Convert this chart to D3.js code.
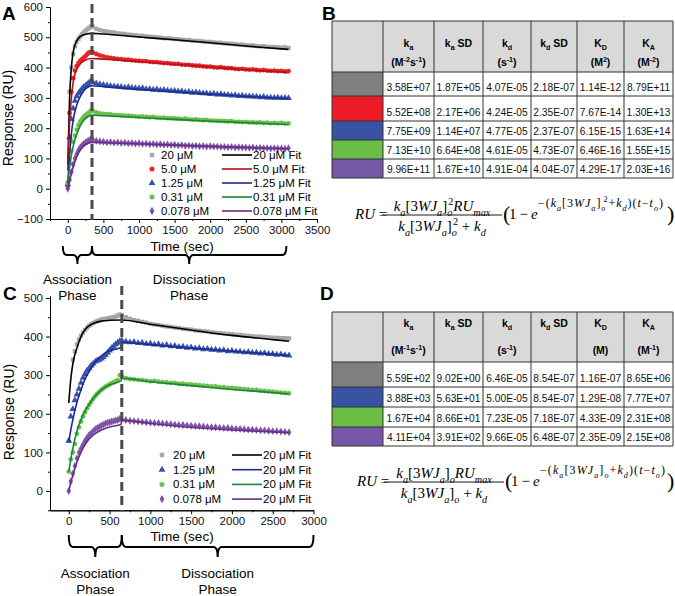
<!DOCTYPE html>
<html>
<head>
<meta charset="utf-8">
<script src="https://cdn.jsdelivr.net/npm/d3@7"></script>
<style>
  body { margin: 0; background: #fff; }
  svg { display: block; }
</style>
</head>
<body>
<div id="chart"></div>
<script>
// ---------- data : panel A (sensorgram, 5 concentrations) ----------
var tA = [0,25,50,75,100,125,150,175,200,225,250,275,300,325,
  350,400,450,500,550,600,650,700,750,800,850,900,950,1000,1050,1100,1150,1200,1250,1300,
  1350,1400,1450,1500,1550,1600,1650,1700,1750,1800,1850,1900,1950,2000,2050,2100,2150,2200,
  2250,2300,2350,2400,2450,2500,2550,2600,2650,2700,2750,2800,2850,2900,2950,3000,3050,3100];
var grayA = [20,320,400,445,470,485,495,503,510,516,522,527,531,536,
  535,528,524,521,519,517,516,513,512,511,509,508,507,505,505,503,502,501,500,499,
  497,497,496,494,494,492,491,491,489,488,488,486,485,485,483,482,482,480,
  479,479,477,476,476,474,473,473,471,470,471,469,468,468,467,466,467,465];
var redA = [10,250,320,365,390,405,415,422,428,433,438,445,450,452,
  450,445,440,437,434,432,430,429,428,426,426,424,423,422,421,421,419,418,418,416,
  415,415,413,412,412,410,409,409,407,406,406,404,403,403,401,400,401,399,
  398,398,396,395,396,394,393,394,392,391,392,390,389,390,388,389,387,388];
var blueA = [15,170,230,265,290,305,315,322,330,336,340,345,350,355,
  352,348,345,343,341,339,338,337,336,334,335,333,332,331,332,329,329,327,328,325,
  326,324,323,323,321,322,319,320,317,318,316,315,315,313,314,311,312,310,
  310,308,309,306,307,305,305,304,304,302,303,301,301,300,301,299,300,299];
var greenA = [20,85,125,155,175,195,210,222,230,238,243,248,252,258,
  256,252,249,247,246,245,244,243,242,241,241,240,239,238,239,237,236,237,235,234,
  235,233,232,232,231,230,231,229,228,229,227,226,227,225,225,224,224,223,
  222,223,221,221,220,221,219,219,218,219,217,218,216,217,216,217,215,216];
var purpleA = [0,30,55,80,100,115,127,136,143,149,153,157,160,163,
  162,158,156,155,153,154,152,153,151,152,150,151,149,150,148,149,147,148,146,147,
  145,146,144,145,143,144,142,143,141,142,140,141,139,140,139,139,138,138,
  137,138,136,137,136,136,135,136,134,135,134,134,133,134,133,133,132,134];

var fitTA = [0,25,50,75,100,150,200,250,340,500,1000,1500,2000,2500,3100];
var blackFitA = [80,300,400,450,475,497,506,510,513,511,501,492,482,471,460];
var redFitA = [60,220,300,350,378,405,418,425,430,428,420,411,402,393,384];
var blueFitA = [20,110,180,225,255,292,315,330,340,337,328,320,312,305,297];
var greenFitA = [15,70,110,140,162,195,218,232,243,241,235,229,223,218,212];
var purpleFitA = [0,25,50,72,90,118,136,146,153,152,148,144,140,136,132];

var legendA = ["20 \u03BCM", "5.0 \u03BCM", "1.25 \u03BCM", "0.31 \u03BCM", "0.078 \u03BCM"];
var fitLegendA = ["20 \u03BCM Fit", "5.0 \u03BCM Fit", "1.25 \u03BCM Fit", "0.31 \u03BCM Fit", "0.078 \u03BCM Fit"];

// ---------- data : panel C (sensorgram, 4 concentrations) ----------
var tC = [0,25,50,75,100,125,150,175,200,225,250,275,300,325,350,375,400,425,450,475,500,525,550,575,600,625,
  650,700,750,800,850,900,950,1000,1050,1100,1150,1200,1250,1300,1350,1400,1450,1500,1550,1600,
  1650,1700,1750,1800,1850,1900,1950,2000,2050,2100,2150,2200,2250,2300,2350,2400,2450,2500,2550,2600,2650,2700];
var grayC = [null,null,340,362,380,392,402,410,417,423,428,432,435,438,440,442,444,445,446,447,448,449,450,452,454,457,
  456,450,446,443,441,438,436,433,431,430,428,426,425,423,422,420,419,418,416,415,
  414,413,411,410,409,408,407,406,405,404,403,402,401,400,400,399,398,397,397,396,396,395];
var blueC = [130,193,212,235,250,265,280,293,303,312,318,325,330,335,338,340,343,347,352,358,364,370,375,380,384,388,
  390,387,385,386,383,384,381,382,379,380,377,378,375,376,373,374,371,372,369,370,
  367,368,366,366,364,365,362,363,361,361,359,360,358,358,356,357,355,355,353,354,352,351];
var greenC = [50,82,100,122,148,165,180,193,204,214,223,231,239,246,252,257,262,266,270,273,276,279,281,284,287,300,
  298,292,290,289,288,287,286,284,285,283,282,281,280,280,278,278,276,276,275,274,
  273,272,271,271,269,269,267,267,266,265,264,263,262,262,260,259,258,257,256,255,254,253];
var purpleC = [0,25,45,65,85,100,110,120,130,138,145,150,155,160,163,166,170,172,175,177,178,180,181,183,184,187,
  186,184,182,181,180,179,178,177,176,176,175,174,173,172,171,171,170,169,168,168,
  167,166,165,165,164,163,163,162,161,161,160,159,159,158,157,157,156,155,155,154,153,152];

var fitTC = [0,25,50,100,150,200,250,300,400,500,640,650,1000,1500,2000,2500,2700];
var blackFitC = [228,290,330,370,400,418,428,434,440,442,443,443,432,417,403,392,388];
var blueFitC = [125,158,185,230,262,290,310,327,350,363,372,385,379,370,362,354,351];
var greenFitC = [50,82,110,155,185,208,225,240,262,275,285,292,283,273,263,255,251];
var purpleFitC = [0,22,40,75,100,120,135,145,158,166,172,183,175,165,158,153,151];

var legendC = ["20 \u03BCM", "1.25 \u03BCM", "0.31 \u03BCM", "0.078 \u03BCM"];
var fitLegendC = ["20 \u03BCM Fit", "20 \u03BCM Fit", "20 \u03BCM Fit", "20 \u03BCM Fit"];

// ---------- data : tables B and D ----------
var tableB = [
  ["3.58E+07","1.87E+05","4.07E-05","2.18E-07","1.14E-12","8.79E+11"],
  ["5.52E+08","2.17E+06","4.24E-05","2.35E-07","7.67E-14","1.30E+13"],
  ["7.75E+09","1.14E+07","4.77E-05","2.37E-07","6.15E-15","1.63E+14"],
  ["7.13E+10","6.64E+08","4.61E-05","4.73E-07","6.46E-16","1.55E+15"],
  ["9.96E+11","1.67E+10","4.91E-04","4.04E-07","4.29E-17","2.03E+16"]
];
var tableD = [
  ["5.59E+02","9.02E+00","6.46E-05","8.54E-07","1.16E-07","8.65E+06"],
  ["3.88E+03","5.63E+01","5.00E-05","8.54E-07","1.29E-08","7.77E+07"],
  ["1.67E+04","8.66E+01","7.23E-05","7.18E-07","4.33E-09","2.31E+08"],
  ["4.11E+04","3.91E+02","9.66E-05","6.48E-07","2.35E-09","2.15E+08"]
];
// header labels: [base, subscript, rest]
var headB = [["k","a",""],["k","a"," SD"],["k","d",""],["k","d"," SD"],["K","D",""],["K","A",""]];
var unitsB = [[["(M",""],["-2","sup"],["s",""],["-1","sup"],[")",""]], [], [["(s",""],["-1","sup"],[")",""]], [],
  [["(M",""],["2","sup"],[")",""]], [["(M",""],["-2","sup"],[")",""]]];
var unitsD = [[["(M",""],["-1","sup"],["s",""],["-1","sup"],[")",""]], [], [["(s",""],["-1","sup"],[")",""]], [],
  [["(M)",""]], [["(M",""],["-1","sup"],[")",""]]];

var font = "Liberation Sans, Arial, sans-serif";
var mathFont = "Liberation Serif, DejaVu Serif, serif";

var dataColors = { gray: "#a6a6a6", red: "#ec2227", blue: "#3651ad", green: "#6cc04a", purple: "#7c55a7" };
var fitColors = { gray: "#000000", red: "#b3121a", blue: "#1d2c8c", green: "#16863a", purple: "#6c2a88" };
var swatch = { gray: "#7f7f7f", red: "#ed1c24", blue: "#3953a4", green: "#6abd45", purple: "#7656a6" };
var shapes = { gray: d3.symbolSquare, red: d3.symbolCircle, blue: d3.symbolTriangle, green: d3.symbolCircle, purple: d3.symbolDiamond };

var svg = d3.select("#chart").append("svg")
  .attr("width", 675).attr("height", 596)
  .style("font-family", font);

// rich text helper: segments [text, "sub"|"sup"|"i"|"sub,i", dx]
function rich(parent, x, y, segs, size, opts) {
  opts = opts || {};
  var t = parent.append("text").attr("x", x).attr("y", y)
    .attr("font-size", size).attr("text-anchor", opts.anchor || "start")
    .attr("font-family", opts.family || font)
    .attr("font-weight", opts.bold ? "bold" : null);
  var cur = 0;
  segs.forEach(function (s) {
    var p = s[1] || "";
    var off = p.indexOf("sub") === 0 ? size * 0.3 : p.indexOf("sup") === 0 ? -size * 0.38 : 0;
    var ts = t.append("tspan").attr("dy", off - cur).text(s[0]);
    cur = off;
    if (off !== 0) ts.attr("font-size", size * 0.68);
    if (p === "i" || p.slice(-2) === ",i") ts.attr("font-style", "italic");
    if (s[2]) ts.attr("dx", s[2]);
  });
  if (opts.len) t.attr("textLength", opts.len).attr("lengthAdjust", "spacing");
  return t;
}

function brace(g, x0, x1, xm, yTop, yMid, yTip) {
  var r = 4;
  var p = "M" + x0 + "," + yTop + " Q" + x0 + "," + yMid + " " + (x0 + r) + "," + yMid +
    " L" + (xm - r) + "," + yMid + " Q" + xm + "," + yMid + " " + xm + "," + yTip +
    " Q" + xm + "," + yMid + " " + (xm + r) + "," + yMid +
    " L" + (x1 - r) + "," + yMid + " Q" + x1 + "," + yMid + " " + x1 + "," + yTop;
  g.append("path").attr("d", p).attr("fill", "none").attr("stroke", "#000").attr("stroke-width", 2);
}

function panel(cfg) {
  var g = svg.append("g");
  var x = d3.scaleLinear().domain(cfg.xDom).range(cfg.xRange);
  var y = d3.scaleLinear().domain(cfg.yDom).range(cfg.yRange);
  var yBase = cfg.yRange[0];

  // minor ticks
  g.append("g").attr("transform", "translate(0," + yBase + ")")
    .call(d3.axisBottom(x).tickValues(cfg.xMinor).tickSize(2).tickSizeOuter(0).tickFormat(""));
  g.append("g").attr("transform", "translate(" + cfg.xRange[0] + ",0)")
    .call(d3.axisLeft(y).tickValues(cfg.yMinor).tickSize(2).tickSizeOuter(0).tickFormat(""));
  // major ticks
  g.append("g").attr("transform", "translate(0," + yBase + ")")
    .call(d3.axisBottom(x).tickValues(cfg.xTicks).tickSize(4).tickSizeOuter(0).tickPadding(3).tickFormat(d3.format("d")));
  g.append("g").attr("transform", "translate(" + cfg.xRange[0] + ",0)")
    .call(d3.axisLeft(y).tickValues(cfg.yTicks).tickSize(4).tickSizeOuter(0).tickPadding(3).tickFormat(d3.format("d")));
  g.selectAll(".tick text").attr("font-size", 11.5).attr("font-family", font).attr("fill", "#111");
  g.selectAll(".domain, .tick line").attr("stroke", "#000");

  // data markers
  cfg.series.forEach(function (s) {
    var pts = cfg.t.map(function (t, i) { return [t, s.values[i]]; })
      .filter(function (d) { return d[1] != null; });
    g.append("g").selectAll("path").data(pts).enter().append("path")
      .attr("d", d3.symbol().type(shapes[s.key]).size(s.key === "blue" ? 20 : 18))
      .attr("transform", function (d) { return "translate(" + x(d[0]) + "," + y(d[1]) + ")"; })
      .attr("fill", dataColors[s.key]);
  });
  // fit lines
  var line = d3.line().x(function (d) { return x(d[0]); }).y(function (d) { return y(d[1]); })
    .curve(d3.curveMonotoneX);
  cfg.series.forEach(function (s) {
    var pts = cfg.fitT.map(function (t, i) { return [t, s.fit[i]]; });
    g.append("path").datum(pts).attr("d", line)
      .attr("fill", "none").attr("stroke", fitColors[s.key]).attr("stroke-width", 1.6);
  });

  // dashed separator between association and dissociation
  g.append("line").attr("x1", x(cfg.switchT)).attr("x2", x(cfg.switchT))
    .attr("y1", cfg.dashTop).attr("y2", yBase + 1)
    .attr("stroke", "#4a4a4a").attr("stroke-width", 3).attr("stroke-dasharray", "9,5");

  // legend
  cfg.series.forEach(function (s, i) {
    var ly = cfg.legY + i * cfg.legStep;
    g.append("path").attr("d", d3.symbol().type(shapes[s.key]).size(20))
      .attr("transform", "translate(" + cfg.legX + "," + ly + ")").attr("fill", dataColors[s.key]);
    g.append("text").attr("x", cfg.legX + cfg.legGap).attr("y", ly + 4).attr("font-size", 11.5).text(s.label);
    g.append("line").attr("x1", cfg.lineX).attr("x2", cfg.lineX + 30).attr("y1", ly).attr("y2", ly)
      .attr("stroke", fitColors[s.key]).attr("stroke-width", 1.6);
    g.append("text").attr("x", cfg.lineX + 31).attr("y", ly + 4).attr("font-size", 11.5).text(s.fitLabel);
  });

  // axis titles
  g.append("text").attr("x", cfg.timeX).attr("y", cfg.timeY)
    .attr("text-anchor", "middle").attr("font-size", 13.5).text("Time (sec)");
  g.append("text").attr("transform", "translate(" + cfg.respX + "," + cfg.respY + ") rotate(-90)")
    .attr("text-anchor", "middle").attr("font-size", 14).text("Response (RU)");

  // phase braces
  var b = cfg.brace;
  brace(g, x(b.start), x(cfg.switchT), (x(b.start) + x(cfg.switchT)) / 2, b.top, b.mid, b.tip);
  brace(g, x(cfg.switchT), x(b.end), (x(cfg.switchT) + x(b.end)) / 2, b.top, b.mid, b.tip);
  var ax = (x(b.start) + x(cfg.switchT)) / 2, dx = (x(cfg.switchT) + x(b.end)) / 2 + b.textShift;
  [["Association", ax, b.text1], ["Phase", ax, b.text2], ["Dissociation", dx, b.text1], ["Phase", dx, b.text2]]
    .forEach(function (d) {
      g.append("text").attr("x", d[1]).attr("y", d[2]).attr("text-anchor", "middle")
        .attr("font-size", 13.5).text(d[0]);
    });
}

panel({
  t: tA, fitT: fitTA, switchT: 340,
  xDom: [-250, 3500], xRange: [50, 317], yDom: [-100, 600], yRange: [219, 7], dashTop: 4,
  xTicks: [0,500,1000,1500,2000,2500,3000,3500], xMinor: [-250,250,750,1250,1750,2250,2750,3250],
  yTicks: [-100,0,100,200,300,400,500,600], yMinor: [-50,50,150,250,350,450,550],
  series: [
    { key: "gray", values: grayA, fit: blackFitA, label: legendA[0], fitLabel: fitLegendA[0] },
    { key: "red", values: redA, fit: redFitA, label: legendA[1], fitLabel: fitLegendA[1] },
    { key: "blue", values: blueA, fit: blueFitA, label: legendA[2], fitLabel: fitLegendA[2] },
    { key: "green", values: greenA, fit: greenFitA, label: legendA[3], fitLabel: fitLegendA[3] },
    { key: "purple", values: purpleA, fit: purpleFitA, label: legendA[4], fitLabel: fitLegendA[4] }
  ],
  legX: 152, legGap: 9, legY: 155, legStep: 14, lineX: 222,
  timeX: 182, timeY: 251, respX: 13, respY: 118,
  brace: { start: -70, end: 3070, top: 246, mid: 255, tip: 264, text1: 284, text2: 300, textShift: 0 }
});

panel({
  t: tC, fitT: fitTC, switchT: 650,
  xDom: [-230, 3000], xRange: [50, 313.5], yDom: [-50, 505], yRange: [510.3, 296], dashTop: 286,
  xTicks: [0,500,1000,1500,2000,2500,3000], xMinor: [250,750,1250,1750,2250,2750],
  yTicks: [0,100,200,300,400,500], yMinor: [-50,50,150,250,350,450],
  series: [
    { key: "gray", values: grayC, fit: blackFitC, label: legendC[0], fitLabel: fitLegendC[0] },
    { key: "blue", values: blueC, fit: blueFitC, label: legendC[1], fitLabel: fitLegendC[1] },
    { key: "green", values: greenC, fit: greenFitC, label: legendC[2], fitLabel: fitLegendC[2] },
    { key: "purple", values: purpleC, fit: purpleFitC, label: legendC[3], fitLabel: fitLegendC[3] }
  ],
  legX: 162, legGap: 11, legY: 455, legStep: 14.7, lineX: 232,
  timeX: 182, timeY: 541, respX: 14, respY: 412,
  brace: { start: 0, end: 3000, top: 535, mid: 547, tip: 557, text1: 578, text2: 594, textShift: 0 }
});

// ---------- tables ----------
var colX = [332, 383, 434, 483, 531, 577, 624, 673];
function table(cfg) {
  var g = svg.append("g");
  var ys = cfg.rowY;
  // header
  g.append("rect").attr("x", colX[0]).attr("y", ys[0]).attr("width", colX[7] - colX[0]).attr("height", ys[1] - ys[0])
    .attr("fill", "#d9d9d9");
  cfg.rows.forEach(function (r, i) {
    g.append("rect").attr("x", colX[0]).attr("y", ys[i + 1]).attr("width", colX[1] - colX[0])
      .attr("height", ys[i + 2] - ys[i + 1]).attr("fill", swatch[cfg.colors[i]]);
    r.forEach(function (v, j) {
      g.append("text").attr("x", (colX[j + 1] + colX[j + 2]) / 2).attr("y", ys[i + 2] - 5)
        .attr("text-anchor", "middle").attr("font-size", 10.2).attr("fill", "#111").text(v);
    });
  });
  headB.forEach(function (h, j) {
    var cx = (colX[j + 1] + colX[j + 2]) / 2;
    rich(g, cx, ys[0] + cfg.headY, [[h[0], ""], [h[1], "sub"], [h[2], ""]], 10.5, { anchor: "middle", bold: true });
    if (cfg.units[j].length) rich(g, cx, ys[0] + cfg.unitY, cfg.units[j], 10.5, { anchor: "middle", bold: true });
  });
  // grid
  ys.forEach(function (yy) {
    g.append("line").attr("x1", colX[0]).attr("x2", colX[7]).attr("y1", yy).attr("y2", yy)
      .attr("stroke", "#333").attr("stroke-width", 1);
  });
  colX.forEach(function (xx) {
    g.append("line").attr("x1", xx).attr("x2", xx).attr("y1", ys[0]).attr("y2", ys[ys.length - 1])
      .attr("stroke", "#333").attr("stroke-width", 1);
  });
}
table({ rows: tableB, colors: ["gray","red","blue","green","purple"], rowY: [21, 72, 96, 121, 140, 159, 178],
  units: unitsB, headY: 26, unitY: 45 });
table({ rows: tableD, colors: ["gray","blue","green","purple"], rowY: [312, 362, 387, 407, 427, 446],
  units: unitsD, headY: 15, unitY: 42 });

// ---------- equations ----------
function equation(x0, yb, squared) {
  var g = svg.append("g").attr("font-family", mathFont);
  var s = 15;
  var conc = squared
    ? [["k","i"],["a","sub,i"],["[3",""],["WJ","i"],["a","sub,i"],["]",""],["o","sub,i"],["2","sup","-4"]]
    : [["k","i"],["a","sub,i"],["[3",""],["WJ","i"],["a","sub,i"],["]",""],["o","sub,i"]];
  rich(g, x0, yb, [["RU","i"],[" =",""]], s, { family: mathFont });
  var fx0 = x0 + 27, fx1 = x0 + 147, fc = (fx0 + fx1) / 2;
  rich(g, fc, yb - 8, conc.concat([["RU","i"],["max","sub,i"]]), s, { family: mathFont, anchor: "middle" });
  g.append("line").attr("x1", fx0).attr("x2", fx1).attr("y1", yb - 4).attr("y2", yb - 4)
    .attr("stroke", "#000").attr("stroke-width", 0.9);
  rich(g, fc, yb + 12, conc.concat([[" + ",""],["k","i"],["d","sub,i"]]), s, { family: mathFont, anchor: "middle" });
  g.append("text").attr("x", fx1 + 1).attr("y", yb + 2).attr("font-size", 22).text("(");
  rich(g, fx1 + 7, yb, [["1\u2009\u2212\u2009",""],["e","i"]], s, { family: mathFont });
  var ex = squared
    ? [["\u2212(",""],["k","i"],["a","sub,i"],["[3",""],["WJ","i"],["a","sub,i"],["]",""],["o","sub,i"],["2","sup","-3"],["+",""],["k","i"],["d","sub,i"],[")(",""],["t","i"],["\u2212",""],["t","i"],["o","sub,i"],[")",""]]
    : [["\u2212(",""],["k","i"],["a","sub,i"],["[3",""],["WJ","i"],["a","sub,i"],["]",""],["o","sub,i"],["+",""],["k","i"],["d","sub,i"],[")(",""],["t","i"],["\u2212",""],["t","i"],["o","sub,i"],[")",""]];
  rich(g, fx1 + 36, yb - 12, ex, 12, { family: mathFont, len: 125 });
  g.append("text").attr("x", 667).attr("y", yb + 2).attr("font-size", 22).text(")");
}
equation(355, 219, true);
equation(357, 486, false);

// ---------- panel letters ----------
[["A", 2, 20], ["B", 322, 20], ["C", 3, 300], ["D", 320, 300]].forEach(function (d) {
  svg.append("text").attr("x", d[1]).attr("y", d[2]).attr("font-size", 19).attr("font-weight", "bold").text(d[0]);
});
</script>
</body>
</html>
